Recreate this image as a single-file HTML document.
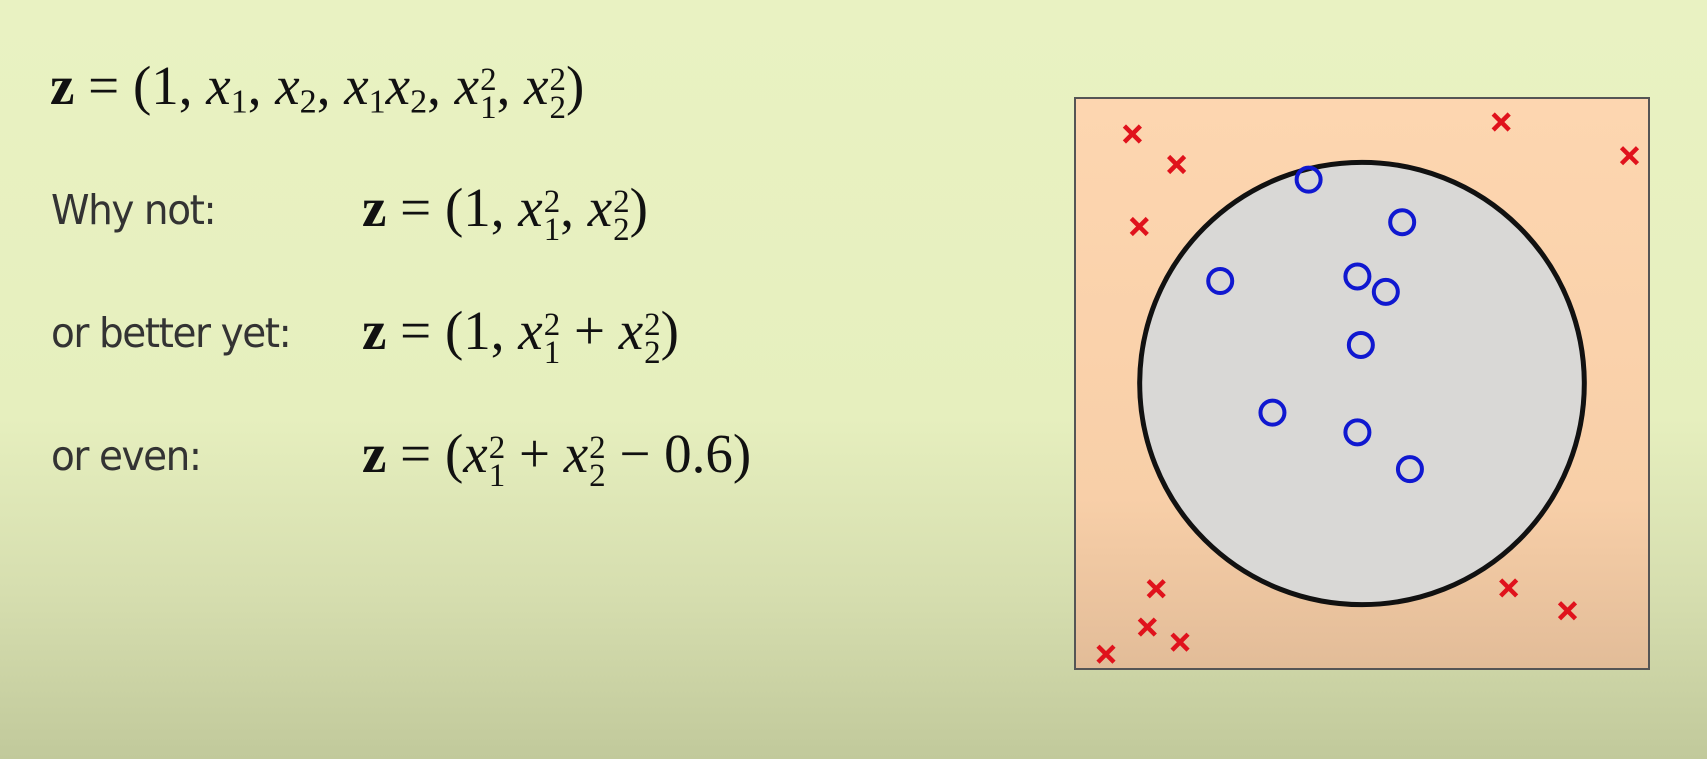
<!DOCTYPE html>
<html><head><meta charset="utf-8"><style>
html,body{margin:0;padding:0}
body{width:1707px;height:759px;overflow:hidden;position:relative;
background:linear-gradient(180deg,#e9f2c2 0%,#e6efbe 55%,#d6deaf 78%,#c1c99b 100%);
font-family:"Liberation Serif",serif;color:#111}
.row{position:absolute;left:0;height:70px;width:900px}
.lbl{position:absolute;left:51px;font-family:"DejaVu Sans","Liberation Sans",sans-serif;font-size:41px;color:#333;letter-spacing:-1.5px;transform:scaleX(0.95);transform-origin:left}
.eq{position:absolute;font-size:55px;white-space:nowrap;line-height:60px}
.eq b{font-weight:bold}
.eq i{font-style:italic}
.eq .ss{display:inline-block;vertical-align:-0.42em;font-size:0.6em;line-height:0.85em;text-align:left;margin-left:1px}
.eq sub{font-size:0.62em;vertical-align:-0.25em;line-height:0}
</style></head><body>
<div class="row" style="top:56px">
 <div class="eq" style="left:50px;top:0">
  <b>z</b> = (1, <i>x</i><sub>1</sub>, <i>x</i><sub>2</sub>, <i>x</i><sub>1</sub><i>x</i><sub>2</sub>, <i>x</i><span class="ss">2<br>1</span>, <i>x</i><span class="ss">2<br>2</span>)
 </div>
</div>
<div class="row" style="top:178px">
 <div class="lbl" style="top:8px">Why not:</div>
 <div class="eq" style="left:362px;top:0"><b>z</b> = (1, <i>x</i><span class="ss">2<br>1</span>, <i>x</i><span class="ss">2<br>2</span>)</div>
</div>
<div class="row" style="top:301px">
 <div class="lbl" style="top:8px">or better yet:</div>
 <div class="eq" style="left:362px;top:0"><b>z</b> = (1, <i>x</i><span class="ss">2<br>1</span> + <i>x</i><span class="ss">2<br>2</span>)</div>
</div>
<div class="row" style="top:424px">
 <div class="lbl" style="top:8px">or even:</div>
 <div class="eq" style="left:362px;top:0"><b>z</b> = (<i>x</i><span class="ss">2<br>1</span> + <i>x</i><span class="ss">2<br>2</span> − 0.6)</div>
</div>
<svg id="plot" width="1707" height="759" style="position:absolute;left:0;top:0">
 <defs><linearGradient id="bg" x1="0" y1="0" x2="0" y2="1">
  <stop offset="0" stop-color="#fdd6b0"/><stop offset="0.7" stop-color="#f8cfa8"/><stop offset="1" stop-color="#e2bc98"/></linearGradient></defs>
</svg>
<script>
const crossX=[-0.80,-0.646,-0.776,0.485,0.932,-0.717,-0.748,-0.634,-0.892,0.511,0.716];
const crossY=[0.874,0.767,0.550,0.916,0.798,-0.719,-0.853,-0.906,-0.948,-0.716,-0.796];
const circX=[-0.186,0.140,-0.494,-0.016,0.083,-0.004,-0.312,-0.016,0.167];
const circY=[0.714,0.565,0.359,0.375,0.321,0.135,-0.102,-0.171,-0.300];
const boundaryR2=[0.6];
const L=1075,R=1649,T=98,B=669;
const sx=v=>L+(v+1)/2*(R-L);
const sy=v=>B-(v+1)/2*(B-T);
const svg=document.getElementById('plot');
const NS='http://www.w3.org/2000/svg';
function mk(t,a){const e=document.createElementNS(NS,t);for(const k in a)e.setAttribute(k,a[k]);svg.appendChild(e);return e;}
const box=mk('rect',{x:L,y:T,width:R-L,height:B-T,fill:'url(#bg)',stroke:'#555',"stroke-width":2});


const r=Math.sqrt(boundaryR2[0]);
const c=mk('ellipse',{cx:sx(0),cy:sy(0),rx:sx(r)-sx(0),ry:sy(0)-sy(r),fill:'#d9d8d6',stroke:'#111',"stroke-width":5});


for(let i=0;i<crossX.length;i++){
 const x=sx(crossX[i]),y=sy(crossY[i]),d=8;
 const g=mk('path',{d:`M${x-d} ${y-d}L${x+d} ${y+d}M${x+d} ${y-d}L${x-d} ${y+d}`,stroke:'#e0121c',"stroke-width":4.5,fill:'none'});
 
 
}
for(let i=0;i<circX.length;i++){
 const e=mk('circle',{cx:sx(circX[i]),cy:sy(circY[i]),r:12,fill:'none',stroke:'#1018d0',"stroke-width":4});
 
 
}
</script>
</body></html>
